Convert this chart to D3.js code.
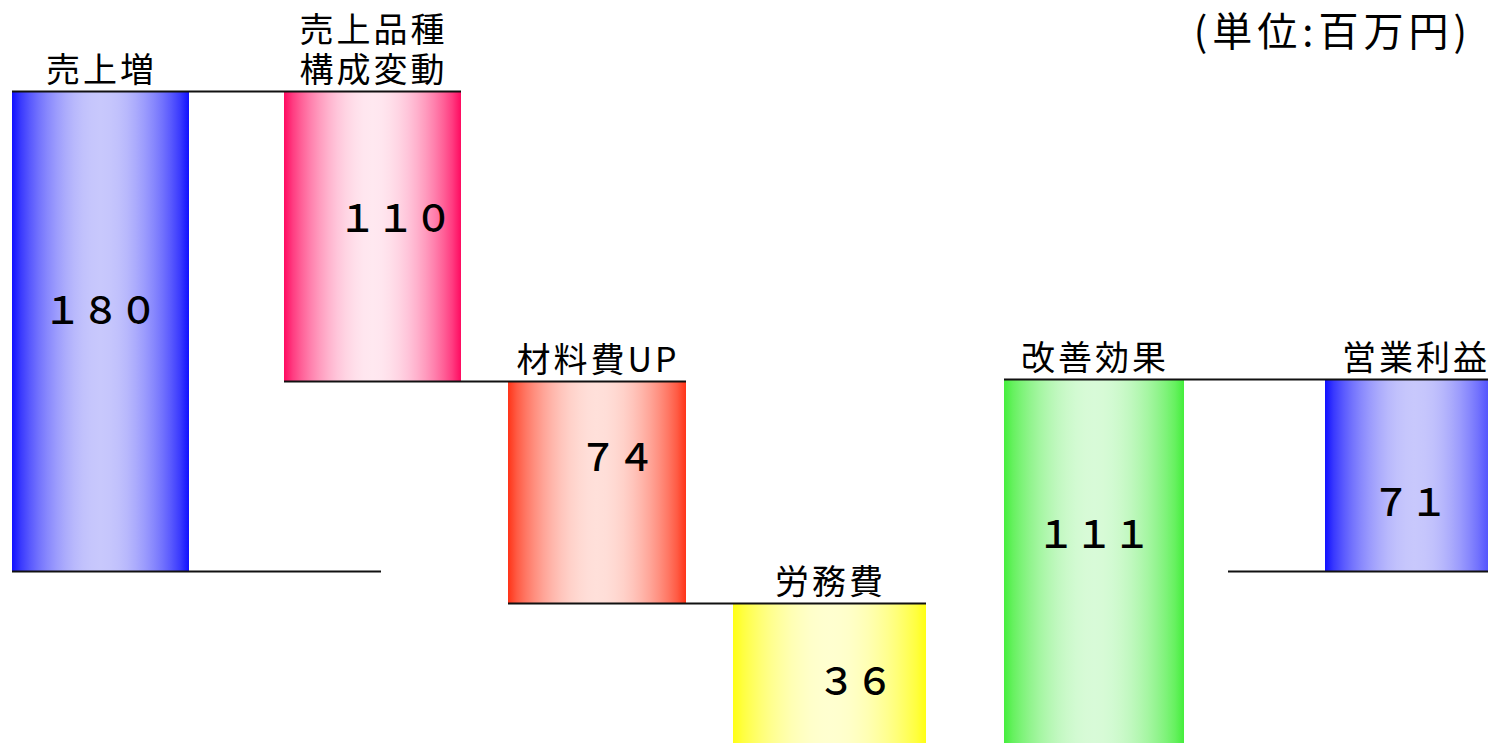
<!DOCTYPE html>
<html>
<head>
<meta charset="utf-8">
<script src="https://cdn.jsdelivr.net/npm/d3@7/dist/d3.min.js"></script>
<style>
  html, body { margin: 0; padding: 0; background: #fff; overflow: hidden; }
  svg { display: block; }
  text { font-family: "Noto Sans CJK JP", "Noto Sans", sans-serif; fill: #000; }
</style>
</head>
<body>
<svg id="chart" width="1488" height="743"></svg>
<script>
// ---- data ----
const categories = ["売上増", "売上品種\n構成変動", "材料費UP", "労務費", "改善効果", "営業利益"];
const values     = [180, -110, -74, -36, 111, 71];          // signed changes; last is the total
const kinds      = ["up", "down", "down", "down", "up", "total"];
const valueLabels = ["１８０", "１１０", "７４", "３６", "１１１", "７１"];
const unitLabel  = "(単位:百万円)";
const palettes = [
  ["#1010ff", "#c8c8fc"],
  ["#ff0a60", "#ffe8f0"],
  ["#ff3418", "#ffe0da"],
  ["#ffff14", "#ffffd0"],
  ["#44ee3c", "#d8fad8"],
  ["#1010ff", "#c8c8fc"]
];

// ---- derived levels (waterfall) ----
const bars = [];
let run = 0;
values.forEach((v, i) => {
  let start, end;
  if (kinds[i] === "total") { start = 0; end = v; }
  else { start = run; end = run + v; run = end; }
  bars.push({ cat: categories[i], label: valueLabels[i], start, end, i });
});

// ---- layout (schematic, not-to-scale vertical axis) ----
const levels = Array.from(new Set(bars.flatMap(b => [b.start, b.end]))).sort((a, b) => a - b);
// levels: [-40, -4, 0, 70, 71, 180]
const y = d3.scaleLinear().domain(levels).range([760, 603, 571, 381, 379, 91]);
const xLeft = d3.scaleOrdinal().domain(categories).range([12, 284, 508, 733, 1004, 1325]);
const xWidth = d3.scaleOrdinal().domain(categories).range([177, 177, 178, 193, 180, 180]);
const numPos = [[0, 0.45], [23, 0.43], [20, 0.33], [26, 0.48], [0, 0.40], [-5, 0.63]];

const svg = d3.select("#chart");
const defs = svg.append("defs");
palettes.forEach((p, i) => {
  const g = defs.append("linearGradient").attr("id", "g" + i)
    .attr("x1", "0%").attr("x2", "100%").attr("y1", "0%").attr("y2", "0%");
  const mix = d3.interpolateRgb(p[0], p[1]);
  d3.range(0, 1.0001, 0.05).forEach(t => {
    const k = Math.pow(Math.sin(Math.PI * Math.min(1, Math.max(0, t))), 0.8);
    g.append("stop").attr("offset", (t * 100).toFixed(1) + "%").attr("stop-color", mix(k));
  });
});

// bars
svg.append("g").selectAll("rect").data(bars).join("rect")
  .attr("x", d => xLeft(d.cat))
  .attr("width", d => xWidth(d.cat))
  .attr("y", d => y(Math.max(d.start, d.end)))
  .attr("height", d => Math.abs(y(d.start) - y(d.end)))
  .attr("fill", d => `url(#g${d.i})`);

// connector lines
const lines = [];
for (let i = 0; i < bars.length - 1; i++) {
  const a = bars[i], b = bars[i + 1];
  const lvl = kinds[i + 1] === "total" ? b.end : a.end;
  lines.push({ x1: xLeft(a.cat), x2: xLeft(b.cat) + xWidth(b.cat), v: lvl });
}
// baseline stubs
lines.push({ x1: xLeft(bars[0].cat), x2: xLeft(bars[0].cat) + 369, v: 0 });
const last = bars[bars.length - 1];
lines.push({ x1: xLeft(last.cat) - 97, x2: xLeft(last.cat) + xWidth(last.cat), v: 0 });

svg.append("g").selectAll("line").data(lines).join("line")
  .attr("x1", d => d.x1).attr("x2", d => d.x2)
  .attr("y1", d => Math.round(y(d.v)) + 0.5).attr("y2", d => Math.round(y(d.v)) + 0.5)
  .attr("stroke", "#111").attr("stroke-width", 2);

// category labels
const catG = svg.append("g");
bars.forEach(b => {
  const top = y(Math.max(b.start, b.end));
  const linesTxt = b.cat.split("\n");
  const cx = xLeft(b.cat) + xWidth(b.cat) / 2 + 1;
  const t = catG.append("text")
    .attr("text-anchor", "middle")
    .attr("font-size", 34);
  linesTxt.forEach((s, k) => {
    t.append("tspan").attr("x", cx)
      .attr("y", top - 9 - (linesTxt.length - 1 - k) * 40)
      .attr("letter-spacing", 3)
      .text(s);
  });
});

// value labels
svg.append("g").selectAll("text").data(bars).join("text")
  .attr("x", d => xLeft(d.cat) + xWidth(d.cat) / 2 + numPos[d.i][0])
  .attr("y", d => {
    const t = y(Math.max(d.start, d.end)), btm = y(Math.min(d.start, d.end));
    return t + (btm - t) * numPos[d.i][1];
  })
  .attr("dominant-baseline", "central")
  .attr("text-anchor", "middle")
  .attr("font-size", 38)
  .attr("font-weight", 500)
  .text(d => d.label);

// unit label
svg.append("text")
  .attr("x", 1472).attr("y", 46)
  .attr("text-anchor", "end")
  .attr("font-size", 40)
  .attr("letter-spacing", 5)
  .text(unitLabel);
</script>
</body>
</html>
